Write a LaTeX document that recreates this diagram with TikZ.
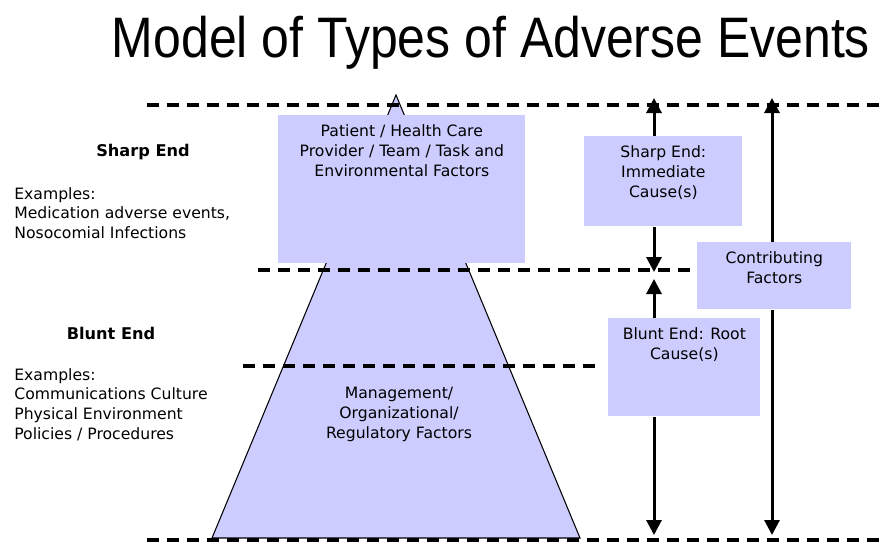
\documentclass[tikz,border=0pt]{standalone}
\usepackage{fontspec}
\setmainfont{DejaVu Sans}
\newfontfamily\titlefont[FakeStretch=0.875]{Liberation Sans}
\usetikzlibrary{arrows.meta,positioning}
\definecolor{causefill}{RGB}{204,204,255}

\begin{document}
\begin{tikzpicture}[
        x=0.02cm, y=-0.02cm,
        font=\fontsize{8.9}{11.2}\selectfont,
        panel/.style={rectangle, fill=causefill, inner sep=0pt, anchor=north west},
        caption/.style={inner sep=0pt, align=center, anchor=north},
        note/.style={inner sep=0pt, align=left, anchor=north west},
        heading/.style={inner sep=0pt, font=\fontsize{9.2}{11}\selectfont\bfseries},
        level/.style={line width=2.3pt, dash pattern=on 0.24cm off 0.16cm},
        arrow/.style={-{Triangle[length=3mm, width=3mm]}, line width=1.7pt}
    ]
        \useasboundingbox (0,0) rectangle (879,542);

        \node[font=\titlefont\fontsize{32.5}{36}\selectfont, anchor=base] (title) at (491,57) {Model of Types of Adverse Events};

        % pyramid behind the top box
        \coordinate (apex) at (396,95);
        \coordinate (baseL) at (212,538);
        \coordinate (baseR) at (580,538);
        \draw[fill=causefill, line width=0.6pt] (baseL) -- (apex) -- (baseR) -- cycle;

        \node[panel, minimum width=4.94cm, minimum height=2.96cm] (patient) at (278,115) {};
        \node[caption, below=1.9mm of patient.north] (patienttxt) {Patient / Health Care\\Provider / Team / Task and\\Environmental Factors};
        \node[caption] (mgmt) at (399,387) {Management/\\Organizational/\\Regulatory Factors};

        % dashed levels
        \foreach \y/\xa/\xb in {105/147/879, 270/258/707, 366/243/602, 540/147/879} {
            \draw[level] (\xa,\y) -- (\xb,\y);
        }

        % causes on the right
        \node[panel, minimum width=3.16cm, minimum height=1.8cm] (sharp) at (584,136) {};
        \node[caption, below=1.9mm of sharp.north] (sharptxt) {Sharp End:\\Immediate\\Cause(s)};
        \node[panel, minimum width=3.08cm, minimum height=1.34cm] (contrib) at (697,242) {};
        \node[caption, below=1.9mm of contrib.north] (contribtxt) {Contributing\\Factors};
        \node[panel, minimum width=3.04cm, minimum height=1.96cm] (blunt) at (608,318) {};
        \node[caption, below=1.9mm of blunt.north] (blunttxt) {Blunt End: Root\\Cause(s)};

        \coordinate (sharpTop) at (654,98);
        \coordinate (sharpBot) at (654,272);
        \coordinate (bluntTop) at (654,279);
        \coordinate (bluntBot) at (654,535);
        \coordinate (contribTop) at (772,98);
        \coordinate (contribBot) at (772,535);
        \draw[arrow] (sharp.north -| sharpTop) -- (sharpTop);
        \draw[arrow] (sharp.south -| sharpBot) -- (sharpBot);
        \draw[arrow] (blunt.north -| bluntTop) -- (bluntTop);
        \draw[arrow] (blunt.south -| bluntBot) -- (bluntBot);
        \draw[arrow] (contrib.north -| contribTop) -- (contribTop);
        \draw[arrow] (contrib.south -| contribBot) -- (contribBot);

        % left labels
        \node[heading] (sharphead) at (143,152) {Sharp End};
        \node[note] (sharpex) at (14,187) {Examples:\\Medication adverse events,\\Nosocomial Infections};
        \node[heading] (blunthead) at (111,333) {Blunt End};
        \node[note] (bluntex) at (14,368) {Examples:\\Communications Culture\\Physical Environment\\Policies / Procedures};
    \end{tikzpicture}
\end{document}
